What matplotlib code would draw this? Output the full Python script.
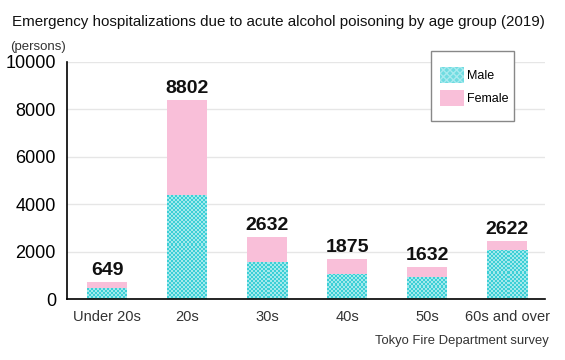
import matplotlib
matplotlib.use("Agg")
import matplotlib.pyplot as plt
from matplotlib.patches import Rectangle
import numpy as np

plt.rcParams['font.family'] = ['Liberation Sans', 'DejaVu Sans']

ages = ["Under 20s", "20s", "30s", "40s", "50s", "60s and over"]
male = [450, 4390, 1560, 1060, 930, 2070]
female = [280, 4010, 1060, 620, 420, 380]
totals_label = [649, 8802, 2632, 1875, 1632, 2622]

fig = plt.figure(figsize=(5.65, 3.6), dpi=100)
ax = fig.add_axes([67/565, 1-299/360, (545-67)/565, (299-62)/360])

x = np.arange(len(ages))
xlim = (-0.5, 5.475)
ylim = (0, 10000)

# checkerboard texture for the male bars (2px cells)
h, w = 237, 478
yy, xx = np.mgrid[0:h, 0:w]
cell = ((yy // 2) + (xx // 2)) % 2
dark = np.array([0x3c, 0xcf, 0xd6]) / 255
light = np.array([0xa3, 0xe9, 0xec]) / 255
checker = np.where(cell[..., None] == 1, dark, light)

mbars = ax.bar(x, male, width=0.5, color="#6fdce1", linewidth=0, label="Male")
for b in mbars:
    im = ax.imshow(checker, extent=(xlim[0], xlim[1], ylim[0], ylim[1]), aspect="auto",
                   interpolation="nearest", zorder=b.get_zorder() + 0.1)
    im.set_clip_path(b)
ax.bar(x, female, width=0.5, bottom=male, color="#f9bfd9", linewidth=0, label="Female")

for xi, m, f, t in zip(x, male, female, totals_label):
    ax.text(xi, m + f + 130, str(t), ha="center", va="bottom", fontsize=14,
            fontweight="bold", color="#111111")

ax.set_xlim(*xlim)
ax.set_ylim(*ylim)
ax.set_yticks(np.arange(0, 10001, 2000))
ax.set_xticks(x)
ax.set_xticklabels(ages, fontsize=10.5, color="#333333")
ax.tick_params(axis="y", labelsize=13, length=0, pad=8)
ax.tick_params(axis="x", length=0, pad=8)
ax.yaxis.grid(True, color="#e6e6e6", linewidth=1)
ax.set_axisbelow(True)
for s in ["top", "right"]:
    ax.spines[s].set_visible(False)
ax.spines["left"].set_linewidth(1.2)
ax.spines["bottom"].set_linewidth(1.2)

fig.text(12/565, 1-22/360, "Emergency hospitalizations due to acute alcohol poisoning by age group (2019)",
         fontsize=10.9, va="center", ha="left", color="#111111")
fig.text(10/565, 1-47/360, "(persons)", fontsize=9.5, va="center", ha="left", color="#333333")
fig.text(549/565, 1-341/360, "Tokyo Fire Department survey", fontsize=9.4, va="center",
         ha="right", color="#333333")

# legend box drawn by hand, entries placed inside it
fig.patches.append(Rectangle((431/565, 1-121/360), 83/565, 70/360, transform=fig.transFigure,
                             facecolor="white", edgecolor="#888888", linewidth=1, zorder=5))
handles, labels = ax.get_legend_handles_labels()
handles[0] = Rectangle((0, 0), 1, 1, facecolor="#6fdce1", hatch="xxxxx", edgecolor="#a8eaee",
                       linewidth=0)
leg = fig.legend(handles, labels, loc="upper left", bbox_to_anchor=(440/565, 1-67/360),
                 fontsize=9, frameon=False, handlelength=1.9, handleheight=1.55,
                 labelspacing=0.6, borderpad=0, borderaxespad=0, handletextpad=0.3)
leg.set_zorder(6)

fig.savefig("out.png", dpi=100)
